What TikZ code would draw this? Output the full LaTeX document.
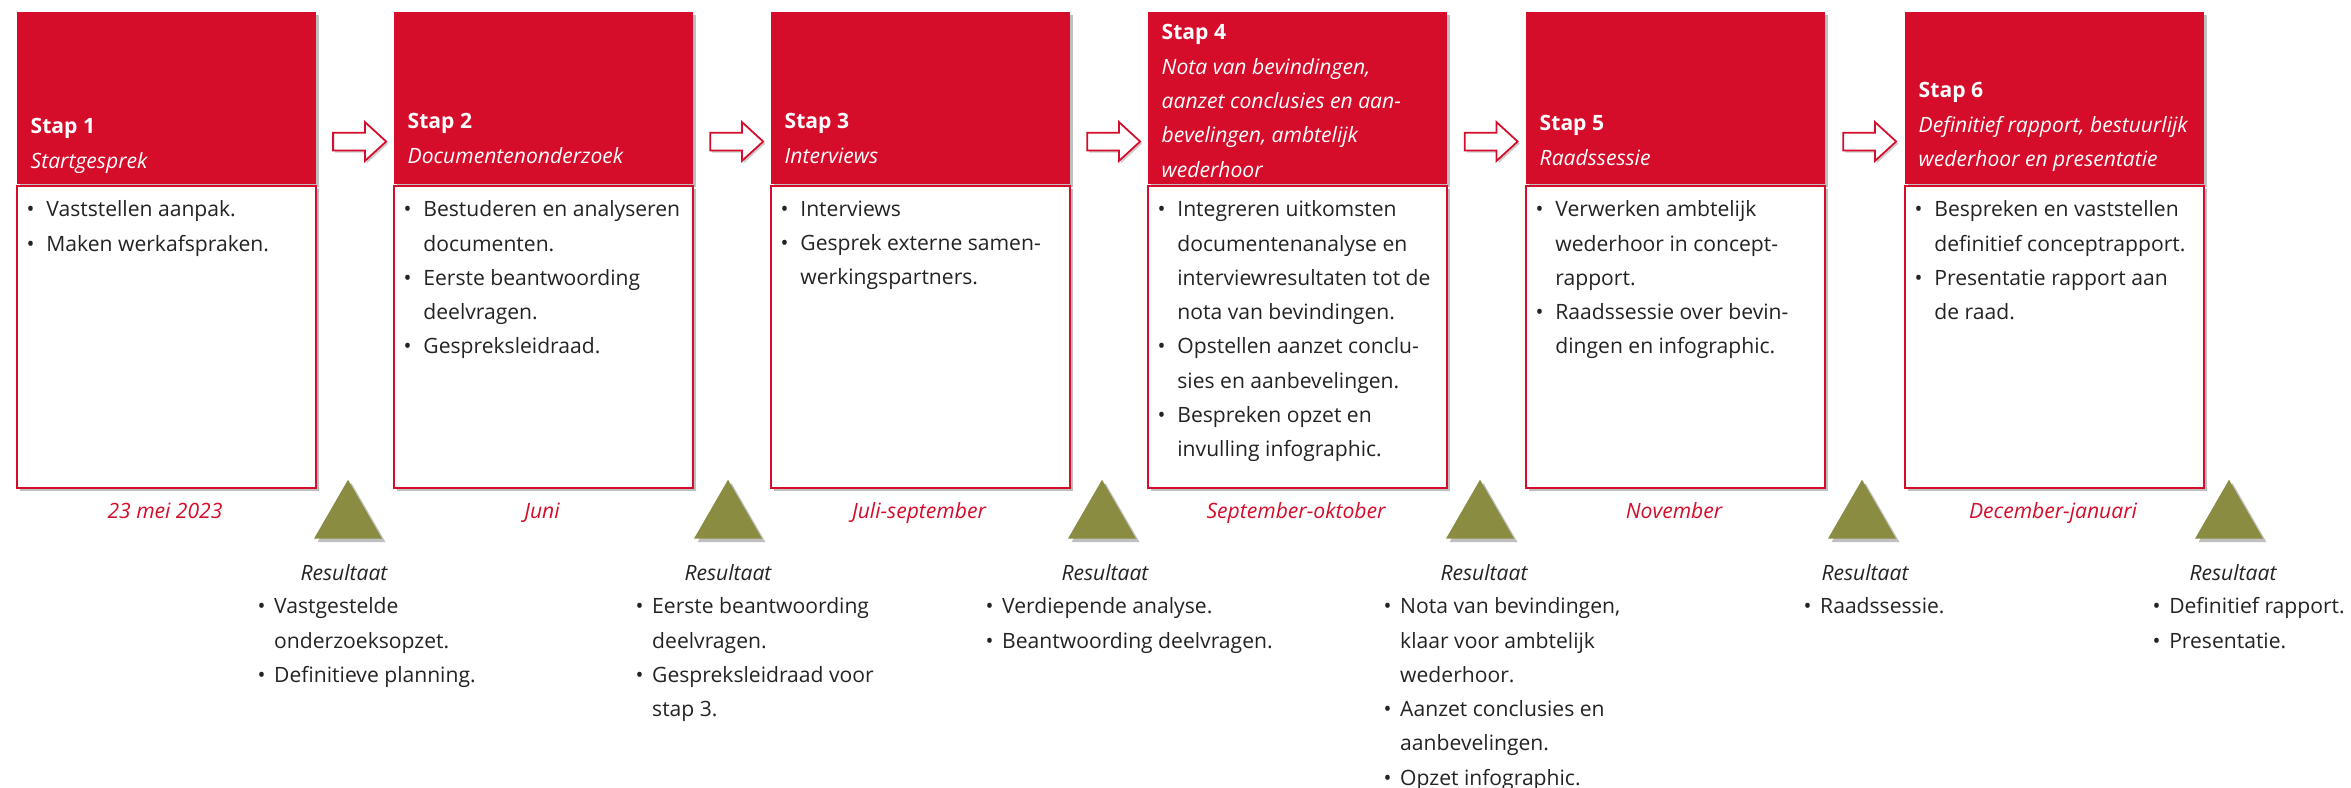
\documentclass[tikz,border=0pt]{standalone}
\usepackage{fontspec}
\setmainfont{Open Sans}
\usepackage{tikz}
\usetikzlibrary{positioning,calc,shapes.geometric,shapes.arrows,shadows}

\definecolor{stapred}{RGB}{213,12,42}
\definecolor{resolive}{RGB}{138,140,66}
\definecolor{bodygray}{RGB}{35,35,35}

\newcommand{\stapbul}{\makebox[5.6pt][l]{\textbullet}}
\newcommand{\stapind}{\hspace*{5.6pt}}
\newcommand{\resbul}{\makebox[4.7pt][l]{\textbullet}}
\newcommand{\resind}{\hspace*{4.7pt}}

\begin{document}
\begin{tikzpicture}
		[x=0.01cm,y=-0.01cm,
		softshadow/.style={drop shadow={shadow xshift=1pt,shadow yshift=-1pt,opacity=0.25,fill=black}},
		header/.style={fill=stapred,minimum width=2.99cm,minimum height=1.72cm,
inner sep=0pt,anchor=north west,softshadow},
		body/.style={draw=stapred,line width=0.6pt,fill=white,minimum width=2.99cm,
minimum height=3.02cm,inner sep=0pt,softshadow},
		headtext/.style={anchor=north west,inner sep=0pt,align=left,text=white,
font=\fontsize{6}{9.75}\selectfont},
		bodytext/.style={anchor=north west,inner sep=0pt,align=left,text=bodygray,
font=\fontsize{6}{9.75}\selectfont},
		datestyle/.style={anchor=base,inner sep=0pt,text=stapred,font=\fontsize{6}{9.75}\selectfont\itshape},
		marker/.style={regular polygon,regular polygon sides=3,fill=resolive,minimum size=0.785cm,
inner sep=0pt,softshadow},
		restitle/.style={anchor=base,inner sep=0pt,text=bodygray,font=\fontsize{6}{9.75}\selectfont\itshape},
		stapflow/.style={single arrow,draw=stapred,line width=0.5pt,fill=white,inner xsep=0pt,
inner ysep=0.08cm,minimum height=0.53cm,single arrow head extend=0.105cm,single arrow tip angle=85,
drop shadow={shadow xshift=0.6pt,shadow yshift=-0.6pt,opacity=0.2,fill=black}}]
		\useasboundingbox (0,0) rectangle (2351,787);
		% the six steps
		\node at (16, 11) (h1) [header] {};
		\node [body,below=0pt of h1] (s1) {};
		\node at (393, 11) (h2) [header] {};
		\node [body,below=0pt of h2] (s2) {};
		\node at (770, 11) (h3) [header] {};
		\node [body,below=0pt of h3] (s3) {};
		\node at (1147, 11) (h4) [header] {};
		\node [body,below=0pt of h4] (s4) {};
		\node at (1525, 11) (h5) [header] {};
		\node [body,below=0pt of h5] (s5) {};
		\node at (1904, 11) (h6) [header] {};
		\node [body,below=0pt of h6] (s6) {};
		\node at (30, 118) (t1) [headtext] {\textbf{Stap 1}\\\textit{Startgesprek}};
		\node at (407, 113) (t2) [headtext] {\textbf{Stap 2}\\\textit{Documentenonderzoek}};
		\node at (784, 113) (t3) [headtext] {\textbf{Stap 3}\\\textit{Interviews}};
		\node at (1161, 24) (t4) [headtext] {\textbf{Stap 4}\\\textit{Nota van bevindingen,}\\
\textit{aanzet conclusies en aan-}\\\textit{bevelingen, ambtelijk}\\\textit{wederhoor}};
		\node at (1539, 115) (t5) [headtext] {\textbf{Stap 5}\\\textit{Raadssessie}};
		\node at (1918, 82) (t6) [headtext] {\textbf{Stap 6}\\\textit{Definitief rapport, bestuurlijk}\\
\textit{wederhoor en presentatie}};
		\node at (26, 200) (b1) [bodytext] {\stapbul Vaststellen aanpak.\\\stapbul Maken werkafspraken.};
		\node at (403, 200) (b2) [bodytext] {\stapbul Bestuderen en analyseren\\\stapind documenten.\\
\stapbul Eerste beantwoording\\\stapind deelvragen.\\\stapbul Gespreksleidraad.};
		\node at (780, 200) (b3) [bodytext] {\stapbul Interviews\\\stapbul Gesprek externe samen-\\
\stapind werkingspartners.};
		\node at (1157, 200) (b4) [bodytext] {\stapbul Integreren uitkomsten\\\stapind documentenanalyse en\\
\stapind interviewresultaten tot de\\\stapind nota van bevindingen.\\\stapbul Opstellen aanzet conclu-\\
\stapind sies en aanbevelingen.\\\stapbul Bespreken opzet en\\\stapind invulling infographic.};
		\node at (1535, 200) (b5) [bodytext] {\stapbul Verwerken ambtelijk\\\stapind wederhoor in concept-\\
\stapind rapport.\\\stapbul Raadssessie over bevin-\\\stapind dingen en infographic.};
		\node at (1914, 200) (b6) [bodytext] {\stapbul Bespreken en vaststellen\\\stapind definitief conceptrapport.\\
\stapbul Presentatie rapport aan\\\stapind de raad.};
		% arrows between the steps
		\node (a1) [stapflow] at ($(h1.south east)!0.5!(h2.south west)+(0,-43)$) {};
		\node (a2) [stapflow] at ($(h2.south east)!0.5!(h3.south west)+(0,-43)$) {};
		\node (a3) [stapflow] at ($(h3.south east)!0.5!(h4.south west)+(0,-43)$) {};
		\node (a4) [stapflow] at ($(h4.south east)!0.5!(h5.south west)+(0,-43)$) {};
		\node (a5) [stapflow] at ($(h5.south east)!0.5!(h6.south west)+(0,-43)$) {};
		% periods
		\node at (165, 518) (d1) [datestyle] {23 mei 2023};
		\node at (542, 518) (d2) [datestyle] {Juni};
		\node at (919, 518) (d3) [datestyle] {Juli-september};
		\node at (1296, 518) (d4) [datestyle] {September-oktober};
		\node at (1674, 518) (d5) [datestyle] {November};
		\node at (2053, 518) (d6) [datestyle] {December-januari};
		% results
		\node at (348, 519) (r1) [marker] {};
		\node at (728, 519) (r2) [marker] {};
		\node at (1102, 519) (r3) [marker] {};
		\node at (1480, 519) (r4) [marker] {};
		\node at (1862, 519) (r5) [marker] {};
		\node at (2229, 519) (r6) [marker] {};
		\node at (344, 580) (rt1) [restitle] {Resultaat};
		\node at (728, 580) (rt2) [restitle] {Resultaat};
		\node at (1105, 580) (rt3) [restitle] {Resultaat};
		\node at (1484, 580) (rt4) [restitle] {Resultaat};
		\node at (1865, 580) (rt5) [restitle] {Resultaat};
		\node at (2233, 580) (rt6) [restitle] {Resultaat};
		\node at (257, 597) (rl1) [bodytext] {\resbul Vastgestelde\\\resind onderzoeksopzet.\\\resbul Definitieve planning.};
		\node at (635, 597) (rl2) [bodytext] {\resbul Eerste beantwoording\\\resind deelvragen.\\
\resbul Gespreksleidraad voor\\\resind stap 3.};
		\node at (985, 597) (rl3) [bodytext] {\resbul Verdiepende analyse.\\\resbul Beantwoording deelvragen.};
		\node at (1383, 597) (rl4) [bodytext] {\resbul Nota van bevindingen,\\\resind klaar voor ambtelijk\\
\resind wederhoor.\\\resbul Aanzet conclusies en\\\resind aanbevelingen.\\\resbul Opzet infographic.};
		\node at (1803, 597) (rl5) [bodytext] {\resbul Raadssessie.};
		\node at (2152, 597) (rl6) [bodytext] {\resbul Definitief rapport.\\\resbul Presentatie.};
	\end{tikzpicture}
\end{document}
